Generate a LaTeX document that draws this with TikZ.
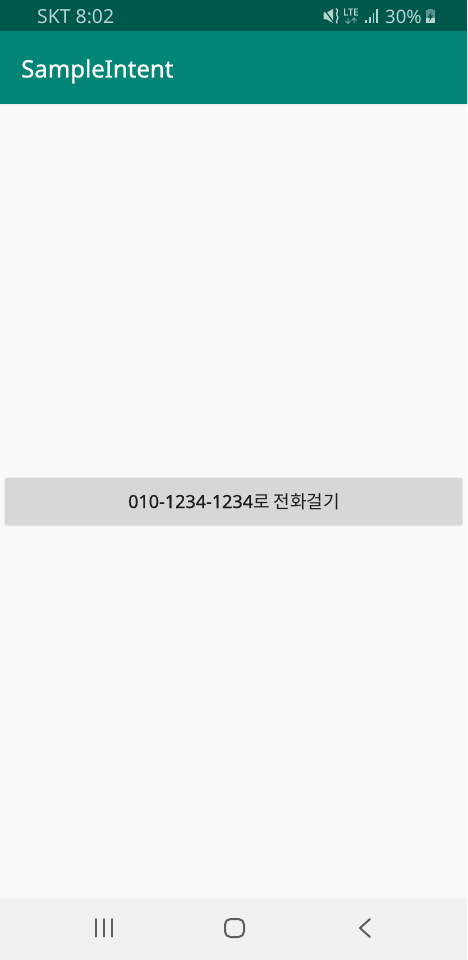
\documentclass[tikz,border=0pt]{standalone}
\usepackage{fontspec}
\setmainfont{Noto Sans}
\newfontfamily\kr{Noto Sans CJK KR}
\newfontfamily\med[FakeBold=0.35]{Noto Sans}
\newfontfamily\ttl[FakeBold=0.7]{Noto Sans}
\definecolor{statusbg}{HTML}{00574B}
\definecolor{appbar}{HTML}{008577}
\definecolor{page}{HTML}{FAFAFA}
\definecolor{btn}{HTML}{D6D7D7}
\definecolor{navbg}{HTML}{F1F1F1}
\definecolor{navic}{HTML}{5F5F5F}
\definecolor{stat}{HTML}{B5D5CF}
\definecolor{btntxt}{HTML}{1C1C1C}
\tikzset{
 txt/.style={inner sep=0pt,anchor=base west},
 navline/.style={navic,line width=2pt,line cap=round,line join=round},
 staticon/.style={stat,line width=1.3pt}
}
\begin{document}
\begin{tikzpicture}[x=1pt,y=-1pt]
\useasboundingbox (0,0) rectangle (467,960);
\fill[page] (0,0) rectangle (467,960);
\fill[statusbg] (0,0) rectangle (467,31);
\fill[appbar] (0,31) rectangle (467,104);
\fill[black,opacity=.03] (0,104) rectangle (467,106);
\fill[navbg] (0,898) rectangle (467,960);
% status text
\node[txt,text=stat,font=\fontsize{19.4}{20}\selectfont] (carrier) at (37,23.5) {SKT 8:02};
\node[txt,text=stat,font=\fontsize{18.5}{20}\selectfont] (pct) at (385,23.5) {30\%};
% mute icon
\fill[stat] (323.5,12.5) -- (327,12.5) -- (333,9) -- (333,23) -- (327,19.5) -- (323.5,19.5) -- cycle;
\draw[statusbg,line width=1.2pt] (324,9) -- (334,23);
\draw[stat,line width=1.3pt] (336,8.5) .. controls (340,11) and (335,13) .. (337,15.5) .. controls (340,18) and (335,20) .. (337,23.5);
% LTE
\node[txt,text=stat,font=\fontsize{9.5}{10}\med\selectfont] (lte) at (343,15.5) {LTE};
\draw[stat,opacity=.6,line width=1pt] (348,18) -- (348,23.5) (345.5,21) -- (348,23.5) -- (350.5,21) (354,23.5) -- (354,18) (351.5,20.5) -- (354,18) -- (356.5,20.5);
% signal
\foreach \x/\h in {366/20.5,370/17.5,373.5/13.5,377/9}{\draw[stat,line width=1.2pt] (\x,23.5) -- (\x,\h);}
% battery
\fill[stat,opacity=.5] (425.5,10.5) rectangle (435,23.5);
\fill[stat] (425.5,18) rectangle (435,23.5);
\fill[stat,opacity=.5] (428,9) rectangle (432.5,10.5);
\fill[statusbg] (431.5,11.5) -- (427.5,17.5) -- (430,17.5) -- (429,22) -- (433,15.5) -- (430.5,15.5) -- cycle;
% title
\node[txt,text=white,font=\fontsize{24}{28}\ttl\selectfont] (title) at (21,77.5) {SampleIntent};
% button
\fill[black,opacity=.04,rounded corners=2pt] (4,478) rectangle (463,526.5);
\fill[black,opacity=.06,rounded corners=2pt] (4.5,478) rectangle (462.5,525.5);
\fill[btn,rounded corners=2pt] (5,477.5) rectangle (462,524.5);
\node[txt,text=btntxt,font=\fontsize{18}{20}\selectfont] (label) at (128,508) {{\med 010-1234-1234}{\kr 로 전화걸기}};
% nav bar
\foreach \x in {95.5,103.5,112}{\draw[navline] (\x,919) -- (\x,936.5);}
\draw[navline,rounded corners=5.5pt] (225,919) rectangle (244,937);
\draw[navline] (370,919) -- (360,928) -- (370,937);
\end{tikzpicture}
\end{document}
